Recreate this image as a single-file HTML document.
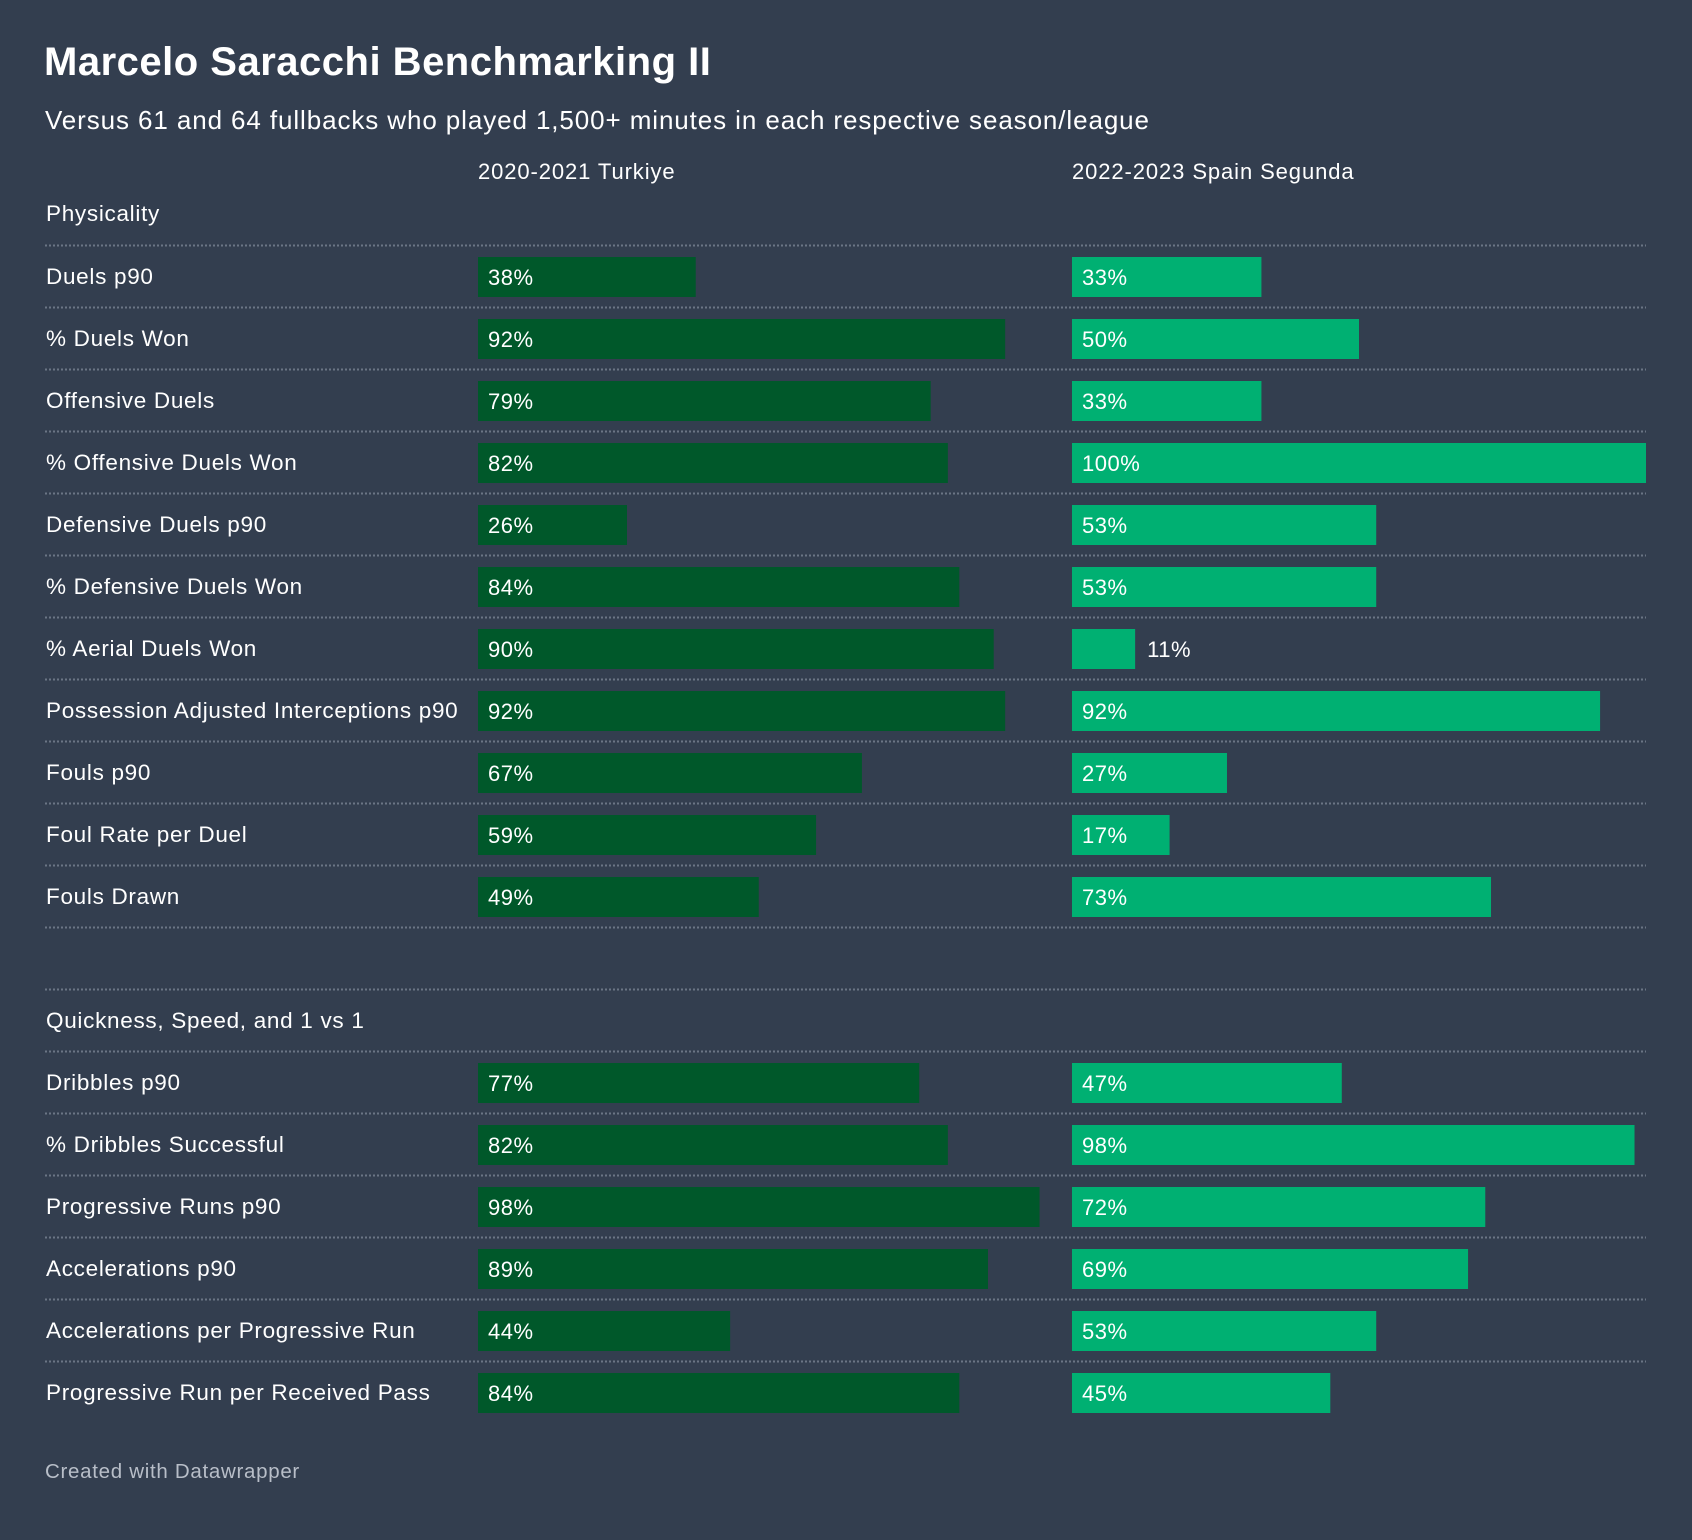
<!DOCTYPE html>
<html><head><meta charset="utf-8"><style>
body{margin:0;background:#333e4f;}
svg{display:block;font-family:"Liberation Sans",Arial,sans-serif;}
</style></head><body>
<svg id="chart" width="1692" height="1540" viewBox="0 0 1692 1540">
<rect width="1692" height="1540" fill="#333e4f"/>
<text x="44" y="75" font-size="40" font-weight="bold" fill="#fff" letter-spacing="0.5">Marcelo Saracchi Benchmarking II</text>
<text x="45" y="129" font-size="26" fill="#fff" letter-spacing="0.9">Versus 61 and 64 fullbacks who played 1,500+ minutes in each respective season/league</text>
<text x="478" y="179" font-size="22" fill="#fff" letter-spacing="0.9">2020-2021 Turkiye</text>
<text x="1072" y="179" font-size="22" fill="#fff" letter-spacing="0.9">2022-2023 Spain Segunda</text>
<g id="rows"></g>
<text x="45" y="1478" font-size="20.5" fill="#b8bec8" letter-spacing="0.7">Created with Datawrapper</text>
</svg>
<script>
const labels=["Physicality","Duels p90","% Duels Won","Offensive Duels","% Offensive Duels Won","Defensive Duels p90","% Defensive Duels Won","% Aerial Duels Won","Possession Adjusted Interceptions p90","Fouls p90","Foul Rate per Duel","Fouls Drawn","","Quickness, Speed, and 1 vs 1","Dribbles p90","% Dribbles Successful","Progressive Runs p90","Accelerations p90","Accelerations per Progressive Run","Progressive Run per Received Pass"];
const turkiye=[null,38,92,79,82,26,84,90,92,67,59,49,null,null,77,82,98,89,44,84];
const spain=[null,33,50,33,100,53,53,11,92,27,17,73,null,null,47,98,72,69,53,45];
const NS="http://www.w3.org/2000/svg";
const g=document.getElementById('rows');
const rowY=k=>246+62*(k-1);
const x1=v=>478+v/100*573, x2=v=>1072+v/100*574;
function mk(t,a){const e=document.createElementNS(NS,t);for(const k in a)e.setAttribute(k,a[k]);g.appendChild(e);return e;}
labels.forEach((lab,i)=>{
  const top=i===0?186:rowY(i);
  if(i>=1){
    const ln=mk('line',{x1:45,x2:1646,y1:top-0.5,y2:top-0.5,stroke:'#6b7585','stroke-width':2,'stroke-dasharray':'2 2'});
    
    
  }
  if(lab){
    const t=mk('text',{x:46,y:top+(i===0?35:38),'font-size':22.5,fill:'#fff','letter-spacing':0.7});t.textContent=lab;
    
    
  }
  [[turkiye,x1,478,'#00582a','bar-turkiye'],[spain,x2,1072,'#00b072','bar-spain']].forEach(([arr,sx,x0,col,nm])=>{
    const v=arr[i]; if(v==null)return;
    const w=sx(v)-x0;
    const r=mk('rect',{x:x0,y:top+11,width:w,height:40,fill:col});
    
    
    const inside=w>70;
    const t=mk('text',{x:inside?x0+10:x0+w+12,y:top+39,'font-size':22,fill:'#fff','letter-spacing':0.5});t.textContent=v+'%';
    
    
  });
});
</script>
</body></html>
